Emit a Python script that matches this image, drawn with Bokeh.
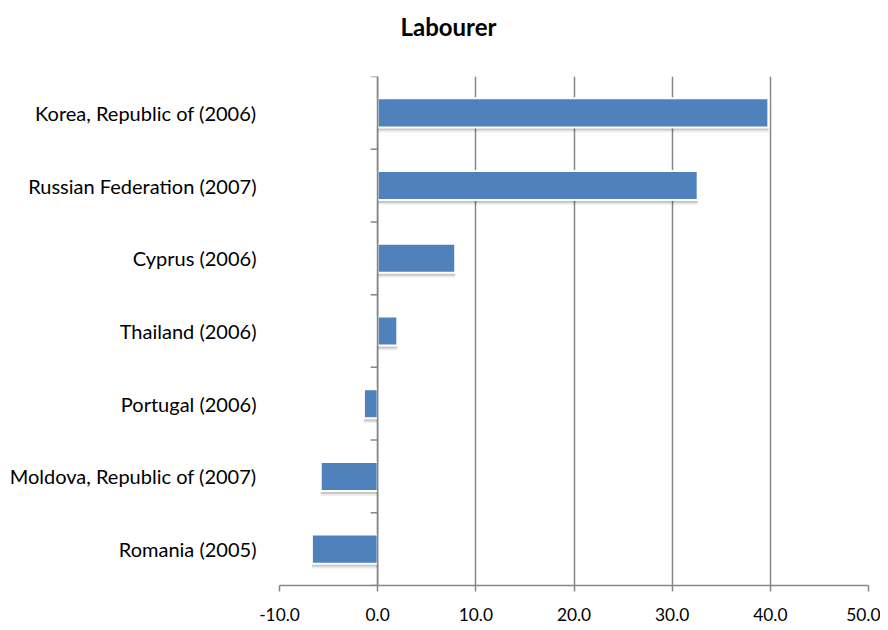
from bokeh.plotting import figure
from bokeh.models import FactorRange, Range1d, FixedTicker, Span, ColumnDataSource, NumeralTickFormatter
from bokeh.transform import dodge
from bokeh.embed import file_html
from bokeh.resources import INLINE

categories = ["Korea, Republic of (2006)", "Russian Federation (2007)", "Cyprus (2006)",
              "Thailand (2006)", "Portugal (2006)", "Moldova, Republic of (2007)", "Romania (2005)"]
values = [39.8, 32.6, 7.9, 2.0, -1.4, -5.8, -6.7]
x_ticks = [-10, 0, 10, 20, 30, 40, 50]
title_text = "Labourer"

FONT = "Lato"
BAR = "#4F81BD"
GRID = "#868686"

cats_bottom_up = list(reversed(categories))
src = ColumnDataSource(dict(cat=categories, val=values))

W, H = 880, 628
FL, FT, FW, FH = 279, 76, 589, 509
p = figure(width=W, height=H, output_backend="svg", toolbar_location=None,
           y_range=FactorRange(factors=cats_bottom_up, range_padding=0),
           x_range=Range1d(x_ticks[0], x_ticks[-1]),
           frame_width=FW, frame_height=FH,
           min_border_left=FL, min_border_right=W - FL - FW, min_border_top=FT,
           min_border_bottom=H - FT - FH)

# title: left-aligned with an offset so that it sits centred over the whole chart;
# a blank second line lifts it higher above the plot area
p.title.text = title_text + "\n "
p.title.align = "left"
p.title.vertical_align = "top"
p.title.offset = 448 - FL - 48
p.title.text_font = FONT
p.title.text_font_size = "18pt"
p.title.text_font_style = "bold"
p.title.text_color = "black"
p.title.standoff = 10

p.outline_line_color = None
p.background_fill_color = "white"
p.border_fill_color = "white"

# grids
p.ygrid.grid_line_color = None
p.xgrid.ticker = FixedTicker(ticks=x_ticks)
p.xgrid.grid_line_color = GRID
p.xgrid.grid_line_width = 1.5

# x axis
p.xaxis.ticker = FixedTicker(ticks=x_ticks)
p.xaxis.formatter = NumeralTickFormatter(format="0.0")
p.xaxis.axis_line_color = GRID
p.xaxis.axis_line_width = 1.5
p.xaxis.major_tick_line_color = GRID
p.xaxis.major_tick_line_width = 1.5
p.xaxis.major_tick_in = 0
p.xaxis.major_tick_out = 6
p.xaxis.minor_tick_line_color = None
p.xaxis.major_label_standoff = 16
p.xaxis.major_label_text_font = FONT
p.xaxis.major_label_text_font_size = "13pt"
p.xaxis.major_label_text_color = "black"

# y axis (category labels at frame left)
p.yaxis.axis_line_color = None
p.yaxis.major_tick_line_color = None
p.yaxis.major_tick_in = 0
p.yaxis.major_tick_out = 0
p.yaxis.minor_tick_line_color = None
p.yaxis.major_label_standoff = 23
p.yaxis.major_label_text_font = FONT
p.yaxis.major_label_text_font_size = "15pt"
p.yaxis.major_label_text_color = "black"

# shadows
p.hbar(y=dodge("cat", -0.05, range=p.y_range), left=0, right="val", height=0.43, source=src,
       fill_color="#000000", fill_alpha=0.08, line_color=None)
p.hbar(y=dodge("cat", -0.04, range=p.y_range), left=0, right="val", height=0.40, source=src,
       fill_color="#000000", fill_alpha=0.15, line_color=None)

# bars
p.hbar(y="cat", left=0, right="val", height=0.4, source=src,
       fill_color=BAR, line_color="white", line_width=2)

# vertical axis at zero with ticks at category boundaries
p.add_layout(Span(location=0, dimension="height", line_color=GRID, line_width=1.5))
n = len(categories)
bounds = list(range(n + 1))
tick_len = (x_ticks[-1] - x_ticks[0]) * 7 / FW
p.segment(x0=[-tick_len] * len(bounds), x1=[0] * len(bounds), y0=bounds, y1=bounds,
          line_color=GRID, line_width=1.5)

open("out.html", "w").write(file_html(p, INLINE))
